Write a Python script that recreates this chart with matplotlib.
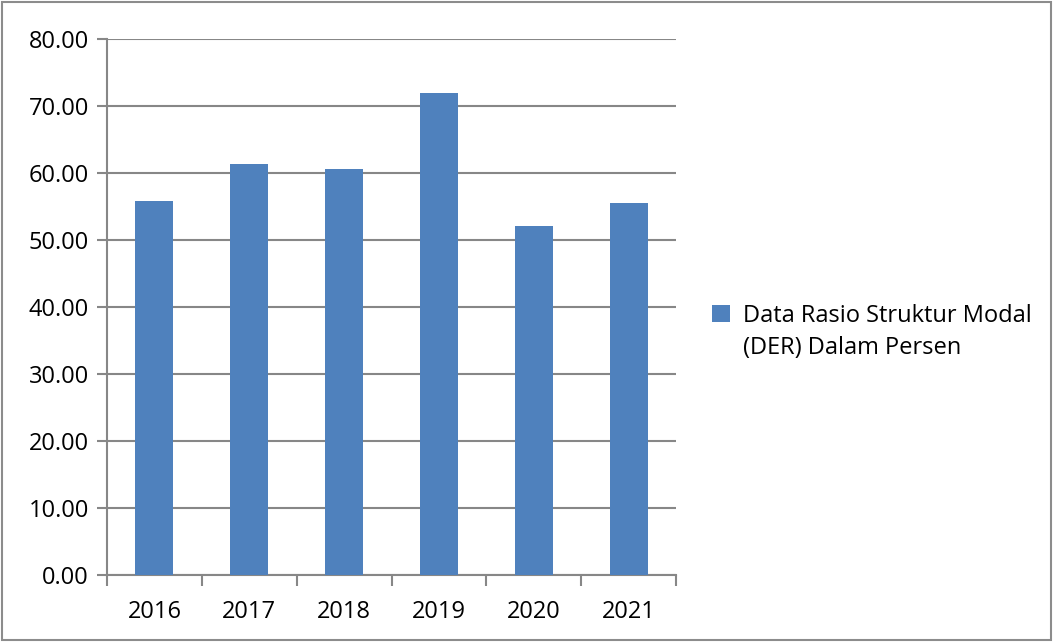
import matplotlib
matplotlib.use("Agg")
import matplotlib.pyplot as plt
from matplotlib.patches import Rectangle

years = ["2016", "2017", "2018", "2019", "2020", "2021"]
der = [55.8, 61.3, 60.6, 71.9, 52.1, 55.5]
y_ticks = [0, 10, 20, 30, 40, 50, 60, 70, 80]
legend_lines = ["Data Rasio Struktur Modal", "(DER) Dalam Persen"]

plt.rcParams["font.family"] = ["Open Sans", "DejaVu Sans"]

bar_color = "#4f81bd"
grid_color = "#878787"

fig = plt.figure(figsize=(10.53, 6.42), dpi=100)
ax = fig.add_axes([0.1016, 0.1044, 0.5404, 0.8346])

x = range(len(years))
bars = ax.bar(x, der, width=0.4, color=bar_color, zorder=3)

ax.set_xlim(-0.5, len(years) - 0.5)
ax.set_ylim(0, 80)
ax.set_yticks(y_ticks)
ax.set_yticklabels([f"{v:.2f}" for v in y_ticks])
ax.set_xticks(list(x))
ax.set_xticklabels(years)
# category boundary ticks on x
ax.set_xticks([i - 0.5 for i in range(len(years) + 1)], minor=True)
ax.tick_params(axis="x", which="major", length=0, pad=18, labelsize=17)
ax.tick_params(axis="x", which="minor", length=8, width=1.5, color=grid_color)
ax.tick_params(axis="y", length=7, width=1.5, color=grid_color, pad=6, labelsize=17)

ax.grid(axis="y", color=grid_color, linewidth=1.5, zorder=0)
for side in ["top", "right"]:
    ax.spines[side].set_visible(False)
for side in ["left", "bottom"]:
    ax.spines[side].set_color(grid_color)
    ax.spines[side].set_linewidth(1.5)

# legend: square only beside the first line, like the original
blank = Rectangle((0, 0), 1, 1, visible=False)
fig.legend([bars, blank], legend_lines, loc="upper left",
           bbox_to_anchor=(0.665, 0.545), frameon=False, fontsize=17,
           handlelength=0.75, handleheight=0.75, handletextpad=0.55,
           labelspacing=0.35, borderpad=0)

# outer border of the chart area
fig.patches.append(Rectangle((0.002, 0.003), 0.996, 0.994, transform=fig.transFigure,
                             fill=False, edgecolor="#8c8c8c", linewidth=1.5))

fig.savefig("out.png", dpi=100)
